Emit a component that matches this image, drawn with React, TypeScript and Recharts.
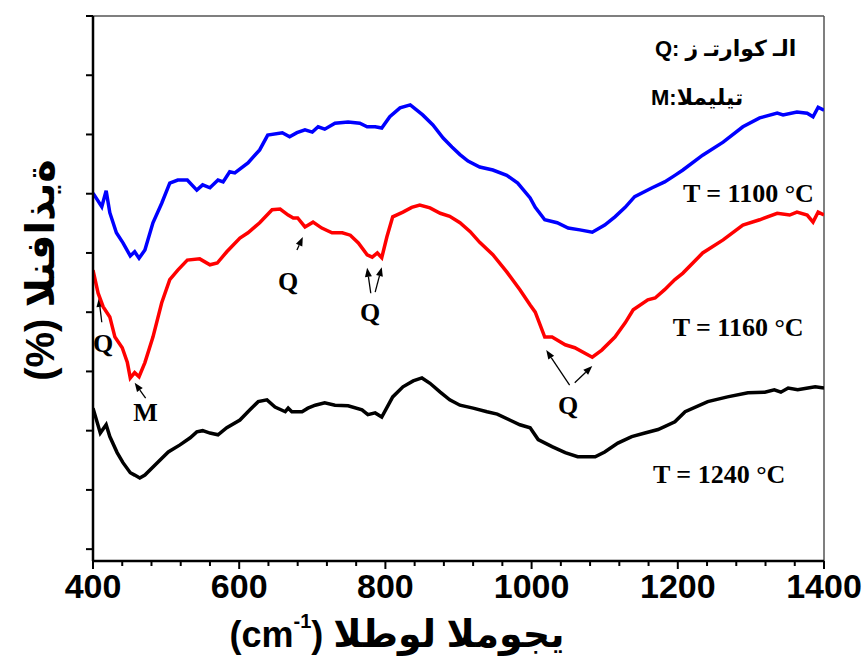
import React from "react";
import { LineChart, Line, XAxis, YAxis, ReferenceLine, Customized } from "recharts";

// wavenumber (cm-1) and transmittance (arb. units)
const wn1100 = [400, 412, 418, 423, 432, 441, 451, 457, 463, 471, 482, 494, 505, 516, 529, 542, 550, 560, 571, 578, 587, 594, 612, 628, 639, 659, 669, 679, 690, 700, 708, 717, 731, 749, 765, 775, 786, 795, 806, 820, 834, 851, 865, 879, 891, 902, 913, 929, 947, 966, 981, 998, 1005, 1018, 1035, 1050, 1066, 1083, 1100, 1114, 1128, 1141, 1165, 1182, 1196, 1207, 1234, 1262, 1289, 1312, 1336, 1344, 1363, 1377, 1385, 1392, 1400];
const t1100 = [60.1, 57.8, 60.5, 56.8, 53.4, 51.7, 49.5, 50.2, 49.1, 50.5, 55.1, 58.4, 61.8, 62.3, 62.3, 60.6, 61.5, 61.0, 62.3, 62.0, 63.7, 63.5, 65.2, 67.4, 69.9, 70.3, 69.6, 70.3, 70.8, 70.4, 71.3, 70.9, 71.9, 72.1, 71.9, 71.3, 71.3, 71.1, 73.0, 74.5, 75.0, 73.3, 71.6, 69.4, 67.9, 66.6, 65.5, 64.5, 64.0, 63.1, 61.8, 59.3, 57.7, 55.6, 55.1, 54.2, 53.9, 53.5, 54.7, 56.1, 57.7, 59.5, 61.0, 62.0, 63.1, 64.0, 66.5, 68.7, 71.3, 72.8, 73.6, 73.3, 73.8, 73.6, 73.0, 74.6, 74.1];

const wn1160 = [400, 407, 414, 423, 430, 440, 447, 451, 457, 463, 471, 482, 494, 505, 516, 529, 546, 560, 570, 583, 601, 612, 628, 645, 656, 667, 674, 680, 690, 701, 713, 727, 741, 752, 763, 775, 782, 789, 795, 802, 810, 824, 836, 847, 861, 875, 888, 902, 916, 929, 947, 966, 984, 998, 1005, 1018, 1028, 1046, 1059, 1083, 1096, 1114, 1128, 1139, 1159, 1169, 1182, 1196, 1207, 1234, 1262, 1289, 1312, 1336, 1353, 1363, 1377, 1385, 1392, 1400];
const t1160 = [47.1, 43.2, 40.9, 39.2, 35.8, 34.0, 31.5, 28.9, 29.8, 29.1, 31.5, 35.8, 41.6, 45.5, 47.1, 48.8, 49.0, 48.0, 48.3, 50.2, 52.5, 53.4, 55.1, 57.3, 57.4, 56.4, 55.9, 55.9, 54.4, 55.2, 54.2, 53.4, 53.4, 53.0, 51.7, 49.7, 49.3, 50.0, 49.2, 52.7, 56.1, 56.9, 57.7, 58.1, 57.6, 56.7, 56.2, 55.1, 53.6, 51.8, 49.7, 46.8, 43.8, 41.2, 40.0, 35.8, 35.8, 34.5, 34.0, 32.4, 33.6, 35.8, 38.2, 40.4, 42.1, 42.4, 43.8, 45.5, 46.6, 50.0, 52.2, 54.7, 55.6, 56.7, 56.4, 56.9, 56.4, 55.2, 56.9, 56.4];

const wn1240 = [400, 410, 418, 423, 433, 441, 451, 457, 464, 471, 488, 503, 519, 533, 542, 550, 560, 571, 583, 601, 612, 626, 638, 649, 663, 667, 672, 686, 694, 704, 717, 731, 749, 768, 776, 786, 795, 810, 824, 838, 850, 861, 875, 888, 902, 920, 939, 953, 970, 984, 998, 1009, 1028, 1046, 1063, 1087, 1100, 1118, 1137, 1155, 1173, 1196, 1210, 1241, 1268, 1296, 1319, 1332, 1341, 1351, 1364, 1378, 1388, 1400];
const t1240 = [23.8, 19.6, 21.0, 19.0, 16.3, 14.6, 12.9, 12.5, 12.0, 12.5, 14.6, 16.4, 17.6, 18.8, 19.8, 20.0, 19.6, 19.3, 20.5, 21.8, 23.2, 24.9, 25.2, 24.0, 23.2, 23.8, 23.2, 23.2, 23.8, 24.3, 24.7, 24.3, 24.2, 23.5, 22.7, 23.0, 22.3, 25.7, 27.4, 28.4, 28.9, 28.0, 26.5, 25.2, 24.3, 23.8, 23.2, 22.8, 21.8, 21.0, 20.5, 18.5, 17.3, 16.3, 15.6, 15.6, 16.4, 17.9, 19.0, 19.6, 20.2, 21.5, 23.2, 24.9, 25.7, 26.4, 26.5, 26.9, 26.5, 27.2, 26.9, 27.2, 27.4, 27.2];

const xTicks = [400, 440, 480, 520, 560, 600, 640, 680, 720, 760, 800, 840, 880, 920, 960, 1000, 1040, 1080, 1120, 1160, 1200, 1240, 1280, 1320, 1360, 1400];
const yTicks = [0, 10, 20, 30, 40, 50, 60, 70, 80, 90];

// peak markers: label position and arrows (tail -> head), in data units
const peakLabels = [
  { text: "Q", wn: 414, t: 34.8, arrows: [[412, 38.3, 408, 42.4]] },
  { text: "M", wn: 472, t: 23.0, arrows: [[472, 25.5, 457, 28.1]] },
  { text: "Q", wn: 667, t: 45.1, arrows: [[679, 50.5, 687, 52.7]] },
  { text: "Q", wn: 779, t: 39.9, arrows: [[780, 43.2, 775, 47.5], [786, 43.4, 795, 47.6]] },
  { text: "Q", wn: 1050, t: 24.3, arrows: [[1052, 27.7, 1020, 33.6], [1059, 28.1, 1083, 30.9]] },
];

const tempLabels = [
  { text: "T = 1100 °C", wn: 1207, t: 60.1 },
  { text: "T = 1160 °C", wn: 1193, t: 37.4 },
  { text: "T = 1240 °C", wn: 1166, t: 12.6 },
];

const W = 862;
const H = 664;
const PLOT = { left: 93, right: 824, top: 16, bottom: 561 };
const X_DOM = [400, 1400];
const Y_DOM = [-2, 90];
const Y_AXIS_W = 10;
const X_AXIS_H = 60;

const sx = (w: number) => PLOT.left + ((w - X_DOM[0]) / (X_DOM[1] - X_DOM[0])) * (PLOT.right - PLOT.left);
const sy = (v: number) => PLOT.top + ((Y_DOM[1] - v) / (Y_DOM[1] - Y_DOM[0])) * (PLOT.bottom - PLOT.top);

const toRows = (wn: number[], t: number[]) => wn.map((w, i) => ({ wn: w, t: t[i] }));

const SANS = "'Liberation Sans', Arial, 'DejaVu Sans', sans-serif";
const SERIF = "'Liberation Serif', 'Times New Roman', serif";

function XTick(props: any) {
  const { x, y, payload } = props;
  const major = payload.value % 200 === 0;
  return (
    <g>
      <line x1={x} x2={x} y1={y} y2={y + (major ? 8 : 5)} stroke="#000" strokeWidth={2} />
      {major && (
        <text x={x} y={y + 37} textAnchor="middle" fontFamily={SANS} fontWeight="bold" fontSize={34} fill="#000">
          {payload.value}
        </text>
      )}
    </g>
  );
}

function YTick(props: any) {
  const { x, y } = props;
  return <line x1={x} x2={x - 7} y1={y} y2={y} stroke="#000" strokeWidth={2} />;
}

function Arrow({ x1, y1, x2, y2 }: { x1: number; y1: number; x2: number; y2: number }) {
  const ang = Math.atan2(y2 - y1, x2 - x1);
  const len = 9;
  const hw = 3.5;
  const bx = x2 - len * Math.cos(ang);
  const by = y2 - len * Math.sin(ang);
  const px = -Math.sin(ang) * hw;
  const py = Math.cos(ang) * hw;
  return (
    <g>
      <line x1={x1} y1={y1} x2={bx} y2={by} stroke="#000" strokeWidth={1.3} />
      <polygon points={`${x2},${y2} ${bx + px},${by + py} ${bx - px},${by - py}`} fill="#000" />
    </g>
  );
}

function Annotations() {
  return (
    <g>
      {peakLabels.map((p, i) => (
        <g key={i}>
          <text x={sx(p.wn)} y={sy(p.t)} textAnchor="middle" dominantBaseline="central" fontFamily={SERIF} fontWeight="bold" fontSize={26} fill="#000">
            {p.text}
          </text>
          {p.arrows.map((a, j) => (
            <Arrow key={j} x1={sx(a[0])} y1={sy(a[1])} x2={sx(a[2])} y2={sy(a[3])} />
          ))}
        </g>
      ))}
      {tempLabels.map((l, i) => (
        <text key={i} x={sx(l.wn)} y={sy(l.t)} dominantBaseline="central" fontFamily={SERIF} fontWeight="bold" fontSize={26} fill="#000">
          {l.text}
        </text>
      ))}
      <text x={655} y={48} dominantBaseline="central" fontFamily={SANS} fontWeight="bold" fontSize={22} fill="#000">
        {"Q: الـ كوارتـ ز"}
      </text>
      <text x={651} y={97} dominantBaseline="central" fontFamily={SANS} fontWeight="bold" fontSize={22} fill="#000">
        {"M:تيليملا"}
      </text>
      <text
        transform="rotate(-90)"
        x={-270}
        y={40}
        textAnchor="middle"
        dominantBaseline="central"
        fontFamily={SANS}
        fontWeight="bold"
        fontSize={40}
        fill="#000"
      >
        {"(%) ةيذافنلا"}
      </text>
      <text x={397} y={634} textAnchor="middle" dominantBaseline="central" fontFamily={SANS} fontWeight="bold" fontSize={36} fill="#000">
        (cm
        <tspan dy={-13} fontSize={20}>-1</tspan>
        <tspan dy={13}>{") "}</tspan>
        <tspan fontSize={38}>{"يجوملا لوطلا"}</tspan>
      </text>
    </g>
  );
}

export default function App() {
  return (
    <div style={{ position: "absolute", left: 0, top: 0, width: W, height: H, background: "#fff" }}>
      <LineChart
        width={W}
        height={H}
        margin={{ top: PLOT.top, right: W - PLOT.right, left: PLOT.left - Y_AXIS_W, bottom: H - PLOT.bottom - X_AXIS_H }}
      >
        <XAxis
          dataKey="wn"
          type="number"
          domain={X_DOM}
          ticks={xTicks}
          interval={0}
          height={X_AXIS_H}
          tickSize={0}
          tickMargin={0}
          tickLine={false}
          tick={<XTick />}
          axisLine={{ stroke: "#000", strokeWidth: 2.5 }}
          allowDataOverflow
        />
        <YAxis
          type="number"
          domain={Y_DOM}
          ticks={yTicks}
          interval={0}
          width={Y_AXIS_W}
          tickSize={0}
          tickMargin={0}
          tickLine={false}
          tick={<YTick />}
          axisLine={{ stroke: "#000", strokeWidth: 2.5 }}
          allowDataOverflow
        />
        <ReferenceLine y={90} stroke="#555" strokeWidth={1.5} />
        <ReferenceLine x={1400} stroke="#555" strokeWidth={1.5} />
        <Line data={toRows(wn1100, t1100)} dataKey="t" stroke="#0000ff" strokeWidth={3.5} dot={false} isAnimationActive={false} />
        <Line data={toRows(wn1160, t1160)} dataKey="t" stroke="#ff0000" strokeWidth={3.5} dot={false} isAnimationActive={false} />
        <Line data={toRows(wn1240, t1240)} dataKey="t" stroke="#000000" strokeWidth={3.5} dot={false} isAnimationActive={false} />
        <Customized component={<Annotations />} />
      </LineChart>
    </div>
  );
}
